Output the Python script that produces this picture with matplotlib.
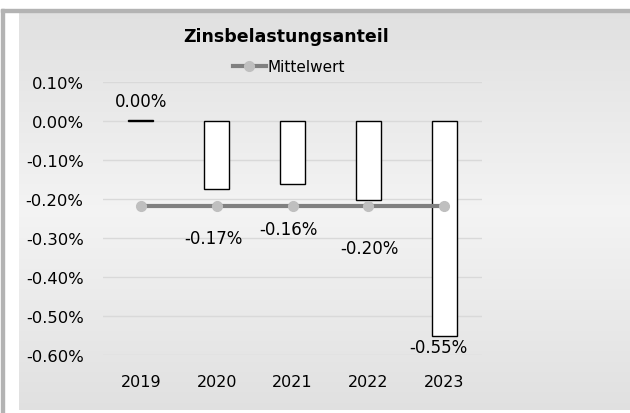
import numpy as np
import matplotlib.pyplot as plt
from matplotlib.patches import Rectangle
from matplotlib.ticker import FuncFormatter

years = ["2019", "2020", "2021", "2022", "2023"]
anteil = [0.00002, -0.00174, -0.00162, -0.00202, -0.00550]
labels = ["0.00%", "-0.17%", "-0.16%", "-0.20%", "-0.55%"]
mittelwert = [-0.00217] * 5

# label positions (x in category units, y in data units)
lab_x = [0.0, 0.96, 1.94, 3.01, 3.93]
lab_y = [0.0005, -0.0030, -0.00277, -0.00326, -0.0058]

fig = plt.figure(figsize=(6.3, 4.14), dpi=100)
fig.patch.set_facecolor("white")
W, H = 630, 414

# background gradient (dark top/bottom, light middle)
bg = fig.add_axes([19 / W, 3 / H, 611 / W, 398 / H], zorder=-2)
g = np.concatenate([np.linspace(0.88, 0.955, 100), np.linspace(0.955, 0.88, 100)])[:, None]
bg.imshow(np.dstack([g, g, g]), aspect="auto", extent=[0, 1, 0, 1])
bg.axis("off")

# outer border (top and left)
fig.patches.append(Rectangle((1 / W, 1 - 13 / H), 629 / W, 3 / H, transform=fig.transFigure,
                             color="#b3b3b3", zorder=-1))
fig.patches.append(Rectangle((1 / W, 0), 3 / W, 1 - 10 / H, transform=fig.transFigure,
                             color="#b3b3b3", zorder=-1))

ax = fig.add_axes([103 / W, 1 - 356 / H, 379 / W, 273 / H])
ax.set_facecolor("none")
x = np.arange(len(years))
ax.bar(x, anteil, width=0.33, color="white", edgecolor="black", linewidth=1, zorder=3)
ax.plot(x, mittelwert, color="#808080", lw=3, marker="o", ms=7,
        mfc="#bfbfbf", mec="#bfbfbf", zorder=4, label="Mittelwert")

for xi, yi, t in zip(lab_x, lab_y, labels):
    ax.text(xi, yi, t, ha="center", va="center", fontsize=12, color="black", zorder=5)

ax.set_xlim(-0.5, 4.5)
ax.set_ylim(-0.006, 0.001)
ax.set_yticks(np.arange(-0.006, 0.0011, 0.001))
ax.yaxis.set_major_formatter(FuncFormatter(lambda v, p: f"{v * 100:.2f}%"))
ax.set_xticks(x)
ax.set_xticklabels(years)
ax.tick_params(axis="y", length=0, pad=14, labelsize=11.8)
ax.tick_params(axis="x", length=0, pad=14, labelsize=11.5)
ax.grid(axis="y", color="#d9d9d9", lw=1, zorder=0)
for s in ax.spines.values():
    s.set_visible(False)

fig.text(286 / W, 1 - 37 / H, "Zinsbelastungsanteil", ha="center", va="center",
         fontsize=12.5, fontweight="bold")
ax.legend(loc="center", bbox_to_anchor=(289 / W, 1 - 68 / H), bbox_transform=fig.transFigure,
          frameon=False, fontsize=11, handlelength=2.2, handletextpad=0.1,
          borderpad=0, borderaxespad=0)

fig.savefig("out.png", dpi=100)
